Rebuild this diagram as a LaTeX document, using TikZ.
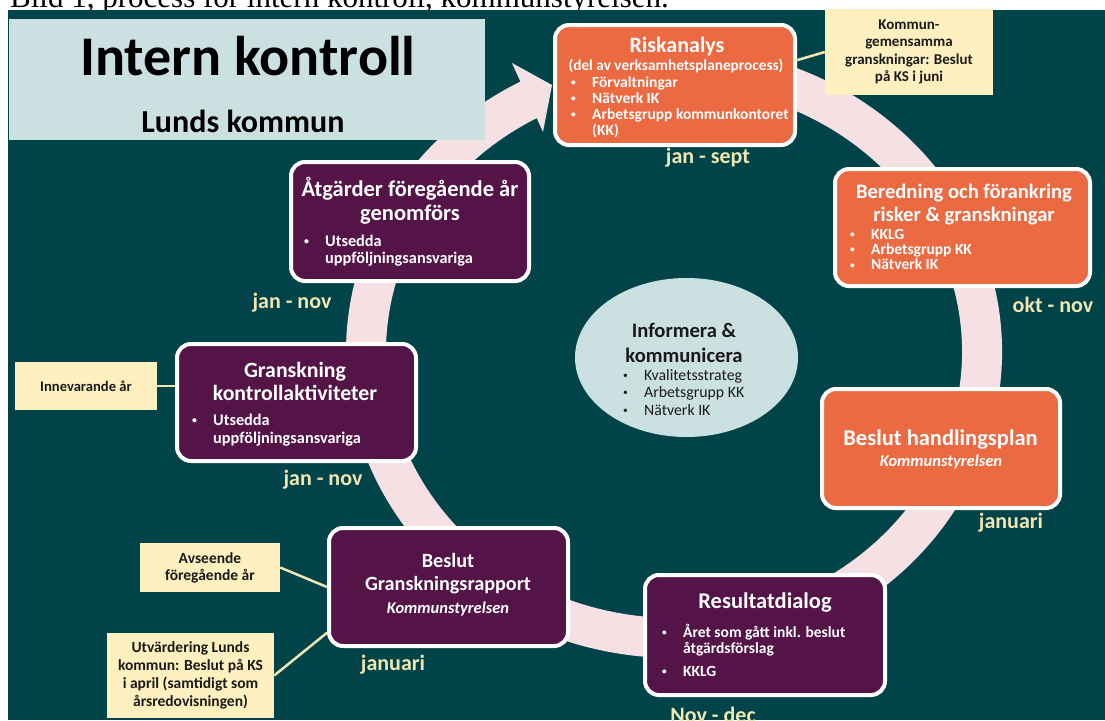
\documentclass[tikz,border=0pt]{standalone}
\usepackage{fontspec}
\usepackage{graphicx}
\setmainfont{Carlito}
\newfontfamily\capfont{Liberation Serif}
\usetikzlibrary{calc,shapes.geometric}
\definecolor{bg}{HTML}{00444A}
\definecolor{titlebg}{HTML}{CBE1E1}
\definecolor{orng}{HTML}{EC6A42}
\definecolor{purp}{HTML}{551447}
\definecolor{ringc}{HTML}{F5E1E3}
\definecolor{notebg}{HTML}{FFF0BF}
\definecolor{whencol}{HTML}{F2E6B0}
\definecolor{ink}{HTML}{1A1A1A}
\newcommand{\bdot}{\raisebox{1.6pt}{\scalebox{0.6}{\textbullet}}}
\newcommand{\blist}[1]{\begin{tabular}[t]{@{}p{21pt}@{}l@{}}#1\end{tabular}}
\newcommand{\fsz}[2]{\fontsize{#1}{#2}\selectfont}
\tikzset{
  stagebox/.style={draw=white, line width=4pt, rounded corners=14pt, inner sep=0pt, minimum width=240pt, minimum height=120pt},
  obox/.style={stagebox, fill=orng},
  pbox/.style={stagebox, fill=purp},
  ttl/.style={font=\bfseries\fsz{22}{24}, text=white, align=center, inner sep=0pt},
  itl/.style={font=\bfseries\itshape\fsz{16.5}{19}, text=white, inner sep=0pt},
  blt/.style={font=\bfseries\fsz{15.5}{16}, text=white, inner sep=0pt, anchor=base west},
  note/.style={fill=notebg, inner sep=0pt, font=\bfseries\fsz{15}{17.4}, text=ink, align=center},
  when/.style={font=\bfseries\fsz{22}{24}, text=whencol, inner sep=0pt},
  conn/.style={draw=whencol, line width=2.5pt},
  ring/.style={draw=ringc, line width=40pt}
}
\begin{document}
\begin{tikzpicture}[x=1pt,y=-1pt]
\useasboundingbox (0,0) rectangle (1105,720);
% caption (cut off at top)
\node[anchor=base west, font=\capfont\fsz{31}{34}, inner sep=0pt] (cap) at (10,7.5) {Bild 1, process för intern kontroll, kommunstyrelsen.};
% background
\fill[bg] (8,9.5) rectangle (1105,720);
% ring arrow
\draw[ring] (727.5,70.3) arc[start angle=280, end angle=603, x radius=308, y radius=286];
\fill[ringc] (512,63) -- (552,85) -- (543,132) -- cycle;
% title
\fill[titlebg] (9,19) rectangle (485,140);
\node[anchor=base, font=\bfseries\fsz{56}{60}, inner sep=0pt] (t1) at (248,75) {Intern kontroll};
\node[anchor=base, font=\bfseries\fsz{32}{34}, inner sep=0pt] (t2) at (243,132) {Lunds kommun};

% stage boxes
\node[obox] (risk) at (675,85) {};
\node[obox, minimum width=255pt, minimum height=117pt] (bered) at (962.5,227.5) {};
\node[pbox, minimum width=238pt, minimum height=119pt] (atg) at (410,221.5) {};
\node[pbox, minimum width=239pt, minimum height=117pt] (gransk) at (296.5,402.5) {};
\node[obox, minimum width=238pt, minimum height=119pt] (hand) at (941,448.5) {};
\node[pbox, minimum width=239pt, minimum height=118pt] (besl) at (448.5,587) {};
\node[pbox] (res) at (765,635) {};
\node[ellipse, fill=titlebg, minimum width=223pt, minimum height=159pt, inner sep=0pt] (info) at (686.5,357.5) {};

% box texts
\node[ttl] (riskT) at (677,47) {Riskanalys};
\node[font=\bfseries\fsz{15.3}{16}, text=white, inner sep=0pt] (riskS) at (676,66) {(del av verksamhetsplaneprocess)};
\node[blt] (riskL) at (571,87) {\blist{\bdot & Förvaltningar\\ \bdot & Nätverk IK\\ \bdot & Arbetsgrupp kommunkontoret\\ & (KK)}};

\node[ttl, font=\bfseries\fsz{20.6}{23}] (beredT) at (964,204.5) {Beredning och förankring\\risker \& granskningar};
\node[blt, font=\bfseries\fsz{15.5}{15}] (beredL) at (850,239) {\blist{\bdot & KKLG\\ \bdot & Arbetsgrupp KK\\ \bdot & Nätverk IK}};

\node[ttl, font=\bfseries\fsz{22.5}{24}] (atgT) at (410,201) {Åtgärder föregående år\\genomförs};
\node[blt, font=\bfseries\fsz{16.3}{17}] (atgL) at (304,246) {\blist{\bdot & Utsedda\\ & uppföljningsansvariga}};

\node[ttl, font=\bfseries\fsz{21.8}{23}] (granskT) at (295,381.5) {Granskning\\kontrollaktiviteter};
\node[blt, font=\bfseries\fsz{16.3}{18}] (granskL) at (192,425) {\blist{\bdot & Utsedda\\ & uppföljningsansvariga}};

\node[ttl, font=\bfseries\fsz{22.5}{24}] (handT) at (940.5,440) {Beslut handlingsplan};
\node[itl] (handS) at (941,462) {Kommunstyrelsen};

\node[ttl, font=\bfseries\fsz{20.2}{23}] (beslT) at (448,573.5) {Beslut\\Granskningsrapport};
\node[itl] (beslS) at (448,609) {Kommunstyrelsen};

\node[ttl, font=\bfseries\fsz{22.5}{24}] (resT) at (765,603) {Resultatdialog};
\node[blt] (resL) at (662,637) {\blist{\bdot & Året som gått inkl. beslut\\ & åtgärdsförslag\\[7pt] \bdot & KKLG}};

\node[ttl, text=ink, font=\bfseries\fsz{20.6}{25}] (infoT) at (684,342.5) {Informera \&\\kommunicera};
\node[blt, text=ink, font=\fsz{15.8}{17.5}] (infoL) at (623,380) {\blist{\bdot & Kvalitetsstrateg\\ \bdot & Arbetsgrupp KK\\ \bdot & Nätverk IK}};

% notes
\node[note, minimum width=168pt, minimum height=86pt] (n1) at (909,52) {Kommun-\\gemensamma\\granskningar: Beslut\\på KS i juni};
\node[note, minimum width=142pt, minimum height=48pt, font=\bfseries\fsz{14.6}{17}] (n2) at (86,386) {Innevarande år};
\node[note, minimum width=140pt, minimum height=49pt, font=\bfseries\fsz{15.5}{17}] (n3) at (210,567.5) {Avseende\\föregående år};
\node[note, minimum width=167pt, minimum height=85pt, font=\bfseries\fsz{15.5}{18}] (n4) at (190.5,675.5) {Utvärdering Lunds\\kommun: Beslut på KS\\i april (samtidigt som\\årsredovisningen)};

% connectors
\draw[conn] (n1.west) -- ($(risk.north east)!0.3!(risk.south east)$);
\draw[conn] (n2.east) -- (n2.east -| gransk.west);
\draw[conn] (n3.east) -- (besl.west);
\draw[conn] (n4.east) -- ($(besl.west)!0.75!(besl.south west)$);

% period labels
\node[when] (w1) at (708,158) {jan - sept};
\node[when] (w2) at (1053,305) {okt - nov};
\node[when] (w3) at (292,303) {jan - nov};
\node[when] (w4) at (323,480) {jan - nov};
\node[when] (w5) at (1011,523) {januari};
\node[when] (w6) at (393,665) {januari};
\node[when] (w7) at (713,715) {Nov - dec};
\end{tikzpicture}
\end{document}
